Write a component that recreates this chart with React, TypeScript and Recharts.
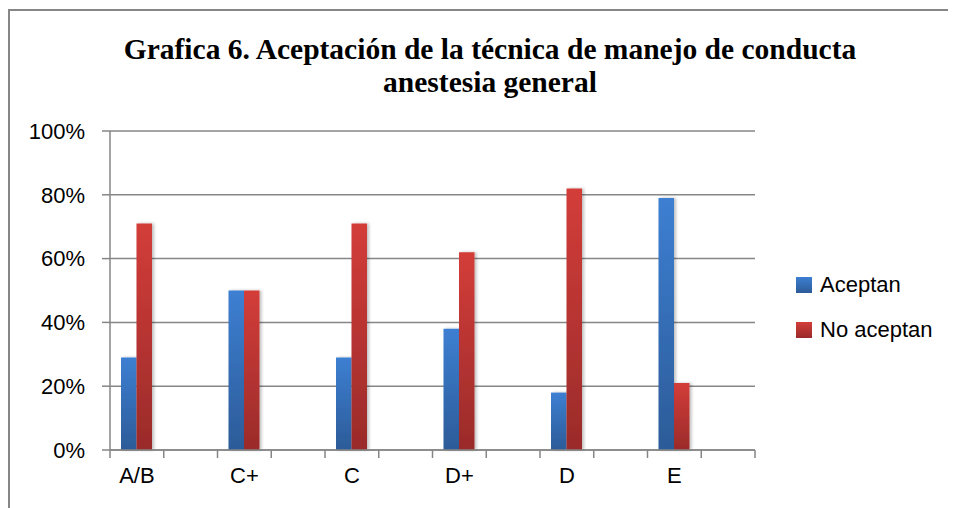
import React from "react";
import { BarChart, Bar, XAxis, YAxis, CartesianGrid } from "recharts";

// the source chart uses blank categories between the groups
const categories = ["A/B", "", "C+", "", "C", "", "D+", "", "D", "", "E", ""];
const aceptan = [29, null, 50, null, 29, null, 38, null, 18, null, 79, null];
const noAceptan = [71, null, 50, null, 71, null, 62, null, 82, null, 21, null];
const yTicks = [0, 20, 40, 60, 80, 100];
const seriesNames = ["Aceptan", "No aceptan"];

const data = categories.map((c, i) => ({
  cat: c,
  key: i,
  aceptan: aceptan[i],
  noAceptan: noAceptan[i],
}));

const W = 948;
const H = 500;
const margin = { top: 123, right: 201, left: 0, bottom: 0 };
const Y_AXIS_W = 102;
const plotWidth = W - margin.left - margin.right - Y_AXIS_W;
const halfSlot = plotWidth / categories.length / 2;

const GRID = "#868686";
const FONT = "'Liberation Sans', Arial, sans-serif";

const XTick = (props: any) => {
  const { x, y, payload, index } = props;
  const label = categories[payload.value];
  const last = index === categories.length - 1;
  return (
    <g>
      <line x1={x - halfSlot} x2={x - halfSlot} y1={y - 8} y2={y} stroke={GRID} strokeWidth={1.5} />
      {last && (
        <line x1={x + halfSlot} x2={x + halfSlot} y1={y - 8} y2={y} stroke={GRID} strokeWidth={1.5} />
      )}
      {label && (
        <text x={x} y={y + 25} textAnchor="middle" fontSize={22} fill="#000" fontFamily={FONT}>
          {label}
        </text>
      )}
    </g>
  );
};

const App: React.FC = () => {
  return (
    <div style={{ position: "relative", width: W, height: H }}>
      <div
        style={{
          position: "absolute",
          left: 0,
          top: 1,
          width: W,
          height: H - 1,
          borderTop: "2px solid #868686",
          borderLeft: "2px solid #868686",
          boxSizing: "border-box",
        }}
      />
      <div
        style={{
          position: "absolute",
          left: 0,
          width: 964,
          top: 25,
          textAlign: "center",
          fontFamily: "'Liberation Serif', 'DejaVu Serif', serif",
          fontWeight: "bold",
          fontSize: 29.5,
          lineHeight: "33px",
          color: "#000",
        }}
      >
        Grafica 6. Aceptación de la técnica de manejo de conducta
        <br />
        anestesia general
      </div>
      <div style={{ position: "absolute", left: 0, top: 0 }}>
        <BarChart width={W} height={H} data={data} margin={margin} barGap={0} barSize={15.5}>
          <defs>
            <linearGradient id="gBlue" x1="0" y1="0" x2="0" y2="1">
              <stop offset="0%" stopColor="#3d7fd2" />
              <stop offset="100%" stopColor="#2c5b98" />
            </linearGradient>
            <linearGradient id="gRed" x1="0" y1="0" x2="0" y2="1">
              <stop offset="0%" stopColor="#d33d39" />
              <stop offset="100%" stopColor="#9a2b2a" />
            </linearGradient>
            <filter id="shadow" x="-20%" y="-5%" width="150%" height="110%">
              <feDropShadow dx="2" dy="0" stdDeviation="1.5" floodColor="#000" floodOpacity="0.25" />
            </filter>
          </defs>
          <CartesianGrid vertical={false} stroke={GRID} strokeWidth={1.5} />
          <XAxis
            dataKey="key"
            type="category"
            height={58}
            axisLine={{ stroke: GRID, strokeWidth: 1.5 }}
            tickLine={false}
            tickSize={8}
            tickMargin={0}
            interval={0}
            tick={<XTick />}
          />
          <YAxis
            width={Y_AXIS_W}
            domain={[0, 100]}
            ticks={yTicks}
            tickFormatter={(v: number) => `${v}%`}
            axisLine={{ stroke: GRID, strokeWidth: 1.5 }}
            tickLine={{ stroke: GRID, strokeWidth: 1.5 }}
            tickSize={8}
            tickMargin={17}
            tick={{ fontSize: 22, fill: "#000", fontFamily: FONT }}
          />
          <Bar dataKey="aceptan" name={seriesNames[0]} fill="url(#gBlue)" filter="url(#shadow)" isAnimationActive={false} />
          <Bar dataKey="noAceptan" name={seriesNames[1]} fill="url(#gRed)" filter="url(#shadow)" isAnimationActive={false} />
        </BarChart>
      </div>
      <div style={{ position: "absolute", left: 788, top: 266, fontFamily: FONT, fontSize: 22 }}>
        {seriesNames.map((n, i) => (
          <div key={n} style={{ display: "flex", alignItems: "center", height: 22, marginBottom: 23 }}>
            <span
              style={{
                display: "inline-block",
                width: 16,
                height: 16,
                marginRight: 8,
                background: i === 0 ? "linear-gradient(#3d7fd2, #2c5b98)" : "linear-gradient(#d33d39, #9a2b2a)",
              }}
            />
            <span>{n}</span>
          </div>
        ))}
      </div>
    </div>
  );
};

export default App;
